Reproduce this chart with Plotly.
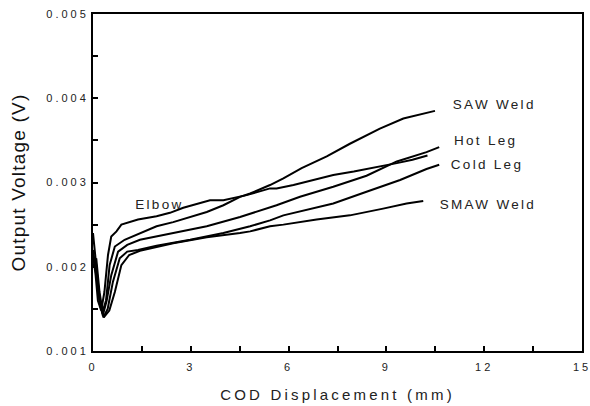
import plotly.graph_objects as go

# ---- data ----
elbow_x = [0, 0.08, 0.15, 0.25, 0.35, 0.46, 0.56, 0.72, 0.87, 1.03, 1.38, 1.95, 2.36, 2.77, 3.2, 3.59, 4.0, 4.71, 5.43, 5.63, 6.15, 6.8, 7.37, 8.0, 8.70, 9.32, 9.8, 10.26]
elbow_y = [0.00215, 0.0019, 0.0016, 0.00148, 0.0017, 0.00214, 0.00236, 0.00242, 0.0025, 0.00252, 0.00256, 0.0026, 0.00264, 0.0027, 0.00275, 0.00279, 0.00279, 0.00285, 0.00293, 0.00293, 0.00297, 0.00303, 0.00309, 0.00313, 0.00318, 0.00323, 0.00327, 0.00332]

saw_x = [0, 0.08, 0.18, 0.28, 0.4, 0.51, 0.67, 0.97, 1.44, 1.95, 2.46, 2.98, 3.49, 4.0, 4.51, 4.82, 5.43, 5.84, 6.40, 7.17, 7.88, 8.80, 9.52, 10.49]
saw_y = [0.0024, 0.0021, 0.0017, 0.00145, 0.0016, 0.00202, 0.00224, 0.00232, 0.0024, 0.00248, 0.00253, 0.00259, 0.00265, 0.00273, 0.00283, 0.00287, 0.00297, 0.00305, 0.00317, 0.00331, 0.00346, 0.00364, 0.00376, 0.00385]

hot_x = [0, 0.1, 0.2, 0.3, 0.42, 0.56, 0.77, 1.05, 1.44, 2.46, 3.49, 4.51, 4.82, 5.43, 5.63, 6.35, 7.37, 8.39, 9.32, 10.23, 10.62]
hot_y = [0.0021, 0.002, 0.0016, 0.00142, 0.0016, 0.0019, 0.00218, 0.00226, 0.00232, 0.0024, 0.00248, 0.00259, 0.00263, 0.0027, 0.00273, 0.00283, 0.00295, 0.00308, 0.00325, 0.00336, 0.00342]

cold_x = [0, 0.1, 0.2, 0.32, 0.45, 0.61, 0.82, 1.05, 1.38, 1.95, 2.98, 4.0, 4.82, 5.43, 5.84, 7.37, 8.39, 9.42, 10.23, 10.62]
cold_y = [0.002, 0.0021, 0.0017, 0.0014, 0.0015, 0.00182, 0.0021, 0.00218, 0.0022, 0.00225, 0.00232, 0.0024, 0.00248, 0.00255, 0.00261, 0.00275, 0.00289, 0.00303, 0.00316, 0.00321]

smaw_x = [0, 0.1, 0.2, 0.33, 0.5, 0.67, 0.87, 1.11, 1.44, 2.46, 3.49, 4.51, 4.82, 5.43, 5.84, 6.86, 7.88, 8.90, 9.62, 10.13]
smaw_y = [0.0022, 0.0019, 0.0016, 0.0014, 0.00148, 0.0017, 0.00202, 0.00214, 0.00219, 0.00228, 0.00235, 0.0024, 0.00242, 0.00248, 0.0025, 0.00256, 0.00261, 0.00269, 0.00275, 0.00278]

series_names = ["Elbow", "SAW Weld", "Hot Leg", "Cold Leg", "SMAW Weld"]
series_x = [elbow_x, saw_x, hot_x, cold_x, smaw_x]
series_y = [elbow_y, saw_y, hot_y, cold_y, smaw_y]

# label anchor positions (data coords)
label_x = [1.42, 11.25, 11.25, 11.2, 10.9]
label_y = [0.00274, 0.00393, 0.003495, 0.003215, 0.002744]

FONT = "Arial, Liberation Sans, sans-serif"

fig = go.Figure()
for nm, xs, ys in zip(series_names, series_x, series_y):
    fig.add_trace(go.Scatter(x=xs, y=ys, mode="lines", name=nm,
                             line=dict(color="black", width=2), showlegend=False))

for nm, lx, ly in zip(series_names, label_x, label_y):
    fig.add_annotation(x=lx, y=ly, text=nm, showarrow=False, xanchor="left",
                       yanchor="middle", font=dict(family=FONT, size=13.5, color="#222"))

axis_common = dict(showline=True, linecolor="black", linewidth=2, mirror=True,
                   ticks="inside", ticklen=5, tickwidth=1.5, tickcolor="black",
                   showgrid=False, zeroline=False, automargin=False,
                   tickfont=dict(family=FONT, size=11, color="#222"))

fig.update_xaxes(range=[0, 15], tickmode="linear", tick0=0, dtick=3, ticklabelstandoff=5,
                 minor=dict(ticks="inside", dtick=1.5, ticklen=5, tickwidth=1.5, tickcolor="black"),
                 title=dict(text="COD Displacement (mm)", font=dict(family=FONT, size=15, color="#222"), standoff=17),
                 **axis_common)
fig.update_yaxes(range=[0.001, 0.005], tickmode="linear", tick0=0.001, dtick=0.001, tickformat=".3f",
                 minor=dict(ticks="inside", dtick=0.0005, ticklen=5, tickwidth=1.5, tickcolor="black"),
                 title=dict(text="Output Voltage (V)", font=dict(family=FONT, size=19, color="#111"), standoff=31),
                 **axis_common)

fig.update_layout(width=590, height=406, margin=dict(l=93, r=8, t=14, b=55),
                  plot_bgcolor="white", paper_bgcolor="white")

post = ("var s=document.createElement('style');"
        "s.textContent='html,body{margin:0;padding:0;overflow:hidden}"
        " .xtick text,.ytick text{letter-spacing:3px}"
        " .xtitle{letter-spacing:3.2px} .ytitle{letter-spacing:1.2px} .annotation-text{letter-spacing:2.3px}';"
        "document.head.appendChild(s);")
fig.write_html("out.html", post_script=post, config={"displayModeBar": False})
